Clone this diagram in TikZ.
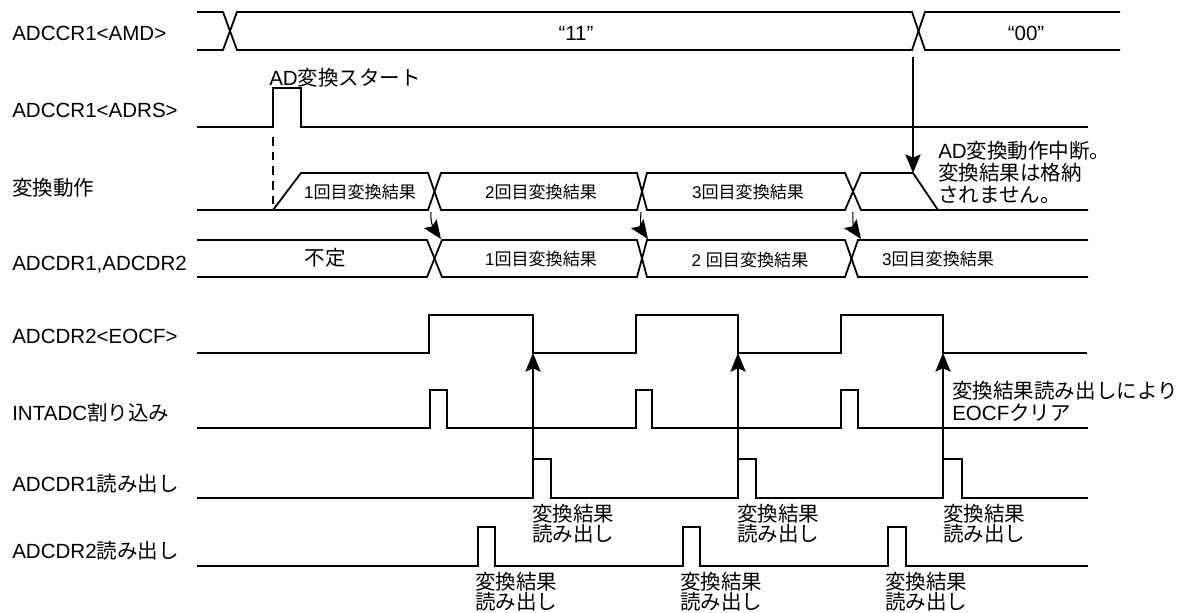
\documentclass[tikz,border=0pt]{standalone}
\usepackage{fontspec}
\setmainfont{Liberation Sans}
\newfontfamily\jpfont{Noto Sans CJK JP}
\newcommand{\jtext}[1]{{\jpfont #1}}
\usetikzlibrary{arrows.meta, positioning}
\lineskiplimit=-20pt

\begin{document}
\begin{tikzpicture}[
        x=0.75pt, y=-0.75pt,
        % Define styles for the waveforms and texts
        signal/.style={line width=1.35pt, line join=miter},
        arrow/.style={-{Stealth[length=14pt, width=11.5pt, inset=2.5pt]}, line width=0.8pt},
        sig_label/.style={anchor=base west, inner sep=0pt, font=\fontsize{15.4}{16.5}\selectfont},
        bus_label/.style={inner sep=0pt, font=\fontsize{12.8}{14}\selectfont},
        % multi-line nodes: base = baseline of the last line
        note/.style={anchor=base west, inner sep=0pt, align=left, font=\fontsize{15.4}{16.5}\selectfont},
        read_note/.style={note, font=\fontsize{15.4}{15}\selectfont}
    ]
    \useasboundingbox (0,0) rectangle (1183,612);

    % ==============================================
    % === SIGNAL NAMES ===
    % ==============================================
    \node (lbl_amd)  [sig_label] at (12,40)  {ADCCR1<AMD>};
    \node (lbl_adrs) [sig_label] at (12,117) {ADCCR1<ADRS>};
    \node (lbl_conv) [sig_label] at (12,195) {\jtext{変換動作}};
    \node (lbl_dr)   [sig_label] at (12,270) {ADCDR1,ADCDR2};
    \node (lbl_eocf) [sig_label] at (12,343) {ADCDR2<EOCF>};
    \node (lbl_int)  [sig_label] at (12,420) {INTADC\jtext{割り込み}};
    \node (lbl_rd1)  [sig_label] at (12,491) {ADCDR1\jtext{読み出し}};
    \node (lbl_rd2)  [sig_label] at (12,558) {ADCDR2\jtext{読み出し}};

    % ==============================================
    % === WAVEFORMS ===
    % ==============================================
    % ADCCR1<AMD>
    \draw [signal] (197,12) -- (223,12) -- (237,50) -- (912,50) -- (925,12) -- (1120,12);
    \draw [signal] (197,50) -- (223,50) -- (237,12) -- (912,12) -- (925,50) -- (1120,50);
    \node (amd_11) [sig_label, anchor=base] at (576,40) {“11”};
    \node (amd_00) [sig_label, anchor=base] at (1026,40) {“00”};

    % ADCCR1<ADRS>
    \draw [signal] (197,127) -- (273,127) -- (273,88) -- (301,88) -- (301,127) -- (1088,127);
    \node (start_txt) [sig_label] at (269,85) {AD\jtext{変換スタート}};
    \draw [line width=1pt, dash pattern=on 6.5pt off 4.5pt] (273,137) -- (273,210);

    % conversion
    \draw [signal] (197,210) -- (273,210) -- (301,173) -- (428,173) -- (441,210) -- (637,210)
        -- (647,173) -- (845,173) -- (861,210) -- (1088,210);
    \draw [signal] (273,210) -- (428,210) -- (441,173) -- (637,173) -- (647,210) -- (845,210)
        -- (861,173) -- (913,173) -- (938,210);
    \node (conv1) [bus_label] at (360,192) {1\jtext{回目変換結果}};
    \node (conv2) [bus_label] at (541,192) {2\jtext{回目変換結果}};
    \node (conv3) [bus_label] at (748,192) {3\jtext{回目変換結果}};

    % ADCDR1,ADCDR2
    \draw [signal] (197,240) -- (427,240) -- (442,277) -- (637,277) -- (647,240) -- (845,240)
        -- (858,277) -- (1088,277);
    \draw [signal] (197,277) -- (427,277) -- (442,240) -- (637,240) -- (647,277) -- (845,277)
        -- (858,240) -- (1088,240);
    \node (dr0) [sig_label, anchor=center] at (325,258) {\jtext{不定}};
    \node (dr1) [bus_label] at (541,259) {1\jtext{回目変換結果}};
    \node (dr2) [bus_label] at (750,260) {2 \jtext{回目変換結果}};
    \node (dr3) [bus_label] at (938,259) {3\jtext{回目変換結果}};

    % ADCDR2<EOCF>
    \draw [signal] (197,353) -- (429,353) -- (429,315) -- (533,315) -- (533,353) -- (636,353)
        -- (636,315) -- (738,315) -- (738,353) -- (841,353) -- (841,315) -- (943,315)
        -- (943,353) -- (1087,353);

    % INTADC
    \draw [signal] (197,428) -- (430,428) -- (430,390) -- (447,390) -- (447,428) -- (636,428)
        -- (636,390) -- (652,390) -- (652,428) -- (841,428) -- (841,390) -- (858,390)
        -- (858,428) -- (1088,428);

    % ADCDR1 read
    \draw [signal] (197,498) -- (533,498) -- (533,459) -- (551,459) -- (551,498) -- (738,498)
        -- (738,459) -- (756,459) -- (756,498) -- (943,498) -- (943,459) -- (962,459)
        -- (962,498) -- (1088,498);

    % ADCDR2 read
    \draw [signal] (197,566) -- (478,566) -- (478,527) -- (495,527) -- (495,566) -- (683,566)
        -- (683,527) -- (700,527) -- (700,566) -- (888,566) -- (888,527) -- (906,527)
        -- (906,566) -- (1088,566);

    % ==============================================
    % === ARROWS ===
    % ==============================================
    \coordinate (amd_cross) at (913,57);
    \coordinate (abort_pt) at (913,173);
    \draw [arrow] (amd_cross) -- (abort_pt);

    % conversion result -> data register
    \coordinate (conv_x1) at (431,212);  \coordinate (dr_x1) at (441,239);
    \coordinate (conv_x2) at (641,212);  \coordinate (dr_x2) at (648,239);
    \coordinate (conv_x3) at (853,212);  \coordinate (dr_x3) at (861,239);
    \draw [arrow] (conv_x1) to[out=-95, in=125] (dr_x1);
    \draw [arrow] (conv_x2) to[out=-95, in=125] (dr_x2);
    \draw [arrow] (conv_x3) to[out=-95, in=125] (dr_x3);

    % read clears EOCF
    \coordinate (rd1_a) at (533,459);  \coordinate (eocf_a) at (533,353);
    \coordinate (rd1_b) at (738,459);  \coordinate (eocf_b) at (738,353);
    \coordinate (rd1_c) at (943,459);  \coordinate (eocf_c) at (943,353);
    \draw [arrow] (rd1_a) -- (eocf_a);
    \draw [arrow] (rd1_b) -- (eocf_b);
    \draw [arrow] (rd1_c) -- (eocf_c);

    % ==============================================
    % === NOTES ===
    % ==============================================
    \node (abort_note) [note] at (938,202) {AD\jtext{変換動作中断。} \\ \jtext{変換結果は格納} \\ \jtext{されません。}};
    \node (clear_note) [note] at (952,420) {\jtext{変換結果読み出しにより} \\ EOCF\jtext{クリア}};

    \node (rd1_note_a) [read_note] at (532,541) {\jtext{変換結果} \\ \jtext{読み出し}};
    \node (rd1_note_b) [read_note] at (737,541) {\jtext{変換結果} \\ \jtext{読み出し}};
    \node (rd1_note_c) [read_note] at (943,541) {\jtext{変換結果} \\ \jtext{読み出し}};
    \node (rd2_note_a) [read_note] at (475,609) {\jtext{変換結果} \\ \jtext{読み出し}};
    \node (rd2_note_b) [read_note] at (680,609) {\jtext{変換結果} \\ \jtext{読み出し}};
    \node (rd2_note_c) [read_note] at (885,609) {\jtext{変換結果} \\ \jtext{読み出し}};

\end{tikzpicture}
\end{document}
